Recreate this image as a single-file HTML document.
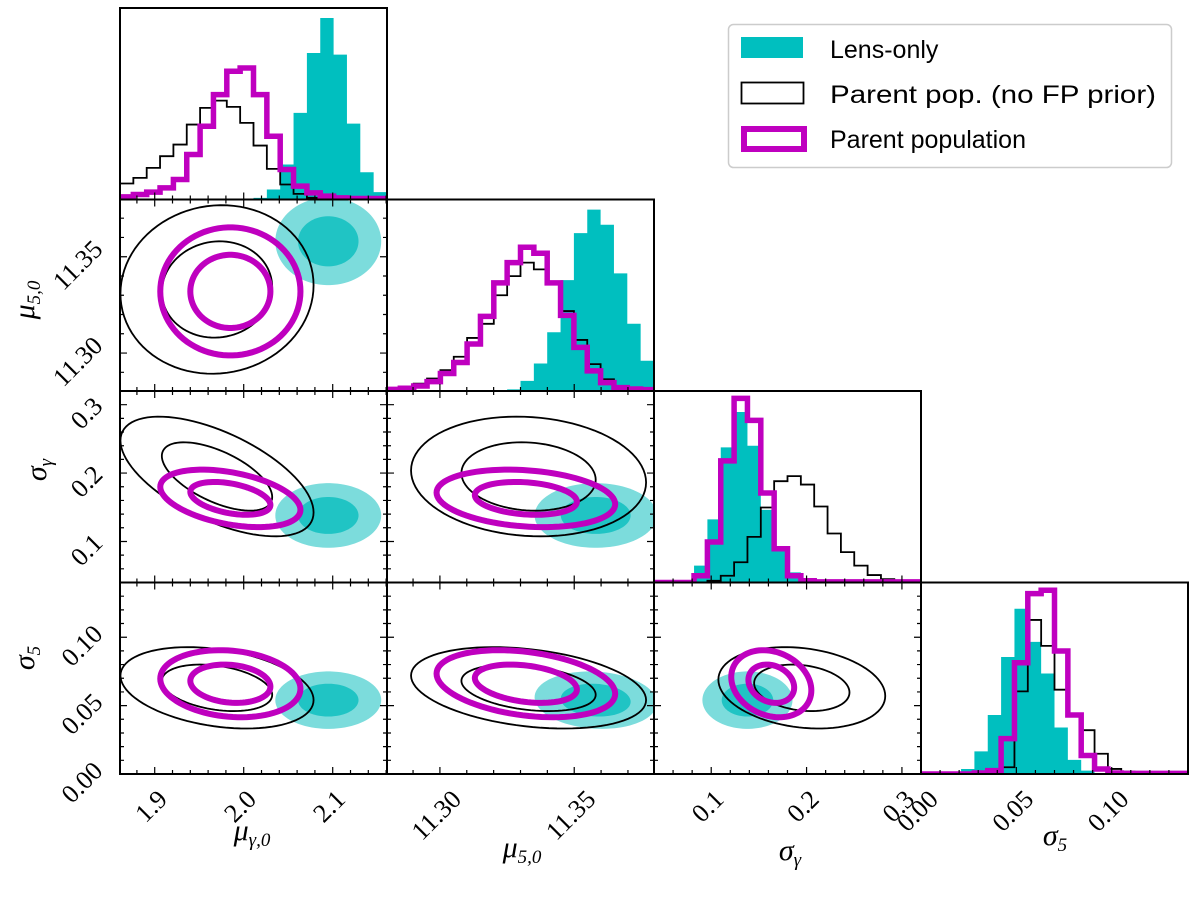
<!DOCTYPE html>
<html><head><meta charset="utf-8">
<style>
html,body{margin:0;padding:0;background:#fff;}
svg{display:block;}
text{font-family:"Liberation Serif",serif;}
.lg{font-family:"Liberation Sans",sans-serif;font-size:25px;}
</style></head>
<body>
<svg id="chart" width="1200" height="900" viewBox="0 0 1200 900" xmlns="http://www.w3.org/2000/svg">
<g id="legend">
  <rect x="728.5" y="24.5" width="443" height="143" rx="5" fill="#fff" stroke="#cccccc" stroke-width="1.5"/>
  <g>
    <rect x="741" y="37" width="62" height="21" fill="#00bfbf"/>
    <text class="lg" x="830" y="58">Lens-only</text>
  </g>
  <g>
    <rect x="741.5" y="82.5" width="62" height="21" fill="none" stroke="#000" stroke-width="1.8"/>
    <text class="lg" x="830" y="103" textLength="326" lengthAdjust="spacingAndGlyphs">Parent pop. (no FP prior)</text>
  </g>
  <g>
    <rect x="744" y="129" width="60" height="20" fill="none" stroke="#bf00bf" stroke-width="6"/>
    <text class="lg" x="830" y="148">Parent population</text>
  </g>
</g>
</svg>
<script>
// ---- data ----
const paramNames = ["mu_gamma0","mu_50","sigma_gamma","sigma_5"];
const rangeMuGamma = [1.861, 2.161];
const rangeMu5 = [11.2803, 11.3797];
const rangeSigGamma = [0.04, 0.32];
const rangeSig5 = [0.0, 0.14];
const ticksMuGamma = [1.9, 2.0, 2.1];
const ticksMu5 = [11.30, 11.35];
const ticksSigGamma = [0.1, 0.2, 0.3];
const ticksSig5 = [0.00, 0.05, 0.10];
const tickLabelsMuGamma = ["1.9","2.0","2.1"];
const tickLabelsMu5 = ["11.30","11.35"];
const tickLabelsSigGamma = ["0.1","0.2","0.3"];
const tickLabelsSig5 = ["0.00","0.05","0.10"];
const minorMuGamma = 0.02, minorMu5 = 0.01, minorSigGamma = 0.02, minorSig5 = 0.01;

// histograms (20 bins across range), relative counts
const histMuGammaLens   = [0,0,0,0,0,0,0,0,0,0,5,30,105,260,440,545,435,228,82,22];
const histMuGammaNoFP   = [48,65,95,130,165,225,275,297,278,230,162,92,45,17,5,2,1,0,0,0];
const histMuGammaParent = [8,15,22,35,60,135,220,315,385,395,315,190,90,40,20,10,5,3,3,3];
const histMu5Lens   = [0,0,0,0,0,0,0,0,0,5,30,82,175,330,470,540,495,350,200,90];
const histMu5NoFP   = [5,8,22,37,62,102,158,200,285,342,382,362,322,238,152,80,35,15,5,2];
const histMu5Parent = [5,8,15,28,52,85,140,222,322,382,428,410,322,225,130,60,25,10,6,4];
const histSigGammaLens   = [0,0,5,50,187,400,505,405,215,100,30,10,0,0,0,0,0,0,0,0];
const histSigGammaNoFP   = [0,0,0,0,5,20,60,135,222,300,315,290,225,145,90,50,22,10,3,2];
const histSigGammaParent = [0,0,0,20,120,360,545,480,265,100,20,5,2,2,2,2,2,2,2,2];
const histSig5Lens   = [0,0,3,15,67,175,347,490,392,298,138,42,10,0,0,0,0,0,0,0];
const histSig5NoFP   = [0,0,0,0,0,2,20,245,457,380,250,175,130,60,15,7,2,0,0,0];
const histSig5Parent = [0,0,0,0,3,10,105,330,535,545,365,175,55,15,3,2,2,2,2,2];
const histYMax = [575, 570, 567, 568];

// 2D posterior summaries: means, std devs, correlations [01,02,03,12,13,23]
const meanLens   = [2.095, 11.358, 0.138, 0.054];
const sdLens     = [0.034, 0.013, 0.027, 0.012];
const corrLens   = [0, 0, 0, 0, -0.1, 0];
const meanNoFP   = [1.97, 11.333, 0.195, 0.063];
const sdNoFP     = [0.062, 0.025, 0.05, 0.017];
const corrNoFP   = [0.05, -0.6, -0.3, -0.1, -0.3, -0.2];
const meanParent = [1.985, 11.332, 0.163, 0.066];
const sdParent   = [0.045, 0.019, 0.024, 0.014];
const corrParent = [0, -0.4, -0.15, -0.2, -0.3, -0.2];
const contourLevels = [1.0, 1.75];

// ---- layout ----
const NS = "http://www.w3.org/2000/svg";
const svg = document.getElementById('chart');
const colX = [120, 387, 654, 921], PW = 267;
const rowY = [8, 199.5, 391, 582.5], PH = 191.5;
const ranges = [rangeMuGamma, rangeMu5, rangeSigGamma, rangeSig5];
const ticks = [ticksMuGamma, ticksMu5, ticksSigGamma, ticksSig5];
const tickLabels = [tickLabelsMuGamma, tickLabelsMu5, tickLabelsSigGamma, tickLabelsSig5];
const minors = [minorMuGamma, minorMu5, minorSigGamma, minorSig5];
const hists = [
  [histMuGammaLens, histMuGammaNoFP, histMuGammaParent],
  [histMu5Lens, histMu5NoFP, histMu5Parent],
  [histSigGammaLens, histSigGammaNoFP, histSigGammaParent],
  [histSig5Lens, histSig5NoFP, histSig5Parent]];
const pairIdx = {"0,1":0,"0,2":1,"0,3":2,"1,2":3,"1,3":4,"2,3":5};

function el(tag, attrs, parent){
  const e = document.createElementNS(NS, tag);
  for (const k in attrs) e.setAttribute(k, attrs[k]);
  (parent||svg).appendChild(e);
  return e;
}
function xScale(p, col){ const r = ranges[p]; return v => colX[col] + (v - r[0]) / (r[1]-r[0]) * PW; }
function yScale(p, row){ const r = ranges[p]; return v => rowY[row] + PH - (v - r[0]) / (r[1]-r[0]) * PH; }

const defs = el('defs', {});
const legend = document.getElementById('legend');

function ellipsePath(mean, sd, corr, pi, pj, r, xs, ys){
  const rho = corr[pairIdx[pi+","+pj]];
  const q = Math.sqrt(1 - rho*rho);
  let d = "";
  for (let k = 0; k <= 90; k++){
    const t = k/90*2*Math.PI, u = Math.cos(t), v = Math.sin(t);
    const a = mean[pi] + sd[pi]*r*u;
    const b = mean[pj] + sd[pj]*r*(rho*u + q*v);
    d += (k ? "L" : "M") + xs(a).toFixed(2) + "," + ys(b).toFixed(2);
  }
  return d + "Z";
}

function drawTicks(g, row, col, xp, yp, diag){
  const x0 = colX[col], y0 = rowY[row], x1 = x0+PW, y1 = y0+PH;
  const xs = xScale(xp, col);
  const r = ranges[xp];
  let d = "";
  const start = Math.ceil(r[0]/minors[xp]-1e-6);
  for (let k = start; k*minors[xp] <= r[1]+1e-9; k++){
    const v = k*minors[xp];
    const isMajor = ticks[xp].some(t => Math.abs(t-v) < 1e-6);
    const L = isMajor ? 7 : 4, x = xs(v);
    d += `M${x},${y1}V${y1-L}`;
    if (!diag) d += `M${x},${y0}V${y0+L}`;
  }
  if (!diag){
    const ys = yScale(yp, row), ry = ranges[yp];
    const st = Math.ceil(ry[0]/minors[yp]-1e-6);
    for (let k = st; k*minors[yp] <= ry[1]+1e-9; k++){
      const v = k*minors[yp];
      const isMajor = ticks[yp].some(t => Math.abs(t-v) < 1e-6);
      const L = isMajor ? 7 : 4, y = ys(v);
      d += `M${x0},${y}H${x0+L}M${x1},${y}H${x1-L}`;
    }
  }
  const tp = el('path', {d: d, stroke: "#000", "stroke-width": 1.2, fill: "none"}, g);
  
  
}

function stepPath(vals, col, row, ymax){
  const n = vals.length, bw = PW/n, base = rowY[row]+PH;
  let d = `M${colX[col]},${base}`;
  for (let i = 0; i < n; i++){
    const y = base - vals[i]/ymax*PH;
    d += `V${y.toFixed(2)}H${(colX[col]+(i+1)*bw).toFixed(2)}`;
  }
  return d + `V${base}`;
}

for (let row = 0; row < 4; row++){
  for (let col = 0; col <= row; col++){
    const g = el('g', {});
    
    
    const cid = `clip${row}${col}`;
    const cp = el('clipPath', {id: cid}, defs);
    el('rect', {x: colX[col], y: rowY[row], width: PW, height: PH}, cp);
    const inner = el('g', {"clip-path": `url(#${cid})`}, g);
    if (row === col){
      const [hl, hb, hm] = hists[col];
      const ymax = histYMax[col];
      const p1 = el('path', {d: stepPath(hl, col, row, ymax), fill: "#00bfbf", stroke: "none"}, inner);
      
      
      const p2 = el('path', {d: stepPath(hb, col, row, ymax), fill: "none", stroke: "#000", "stroke-width": 1.8}, inner);
      
      
      const p3 = el('path', {d: stepPath(hm, col, row, ymax), fill: "none", stroke: "#bf00bf", "stroke-width": 5.5}, inner);
      
      
      drawTicks(g, row, col, col, null, true);
    } else {
      const xs = xScale(col, col), ys = yScale(row, row);
      const c1 = el('path', {d: ellipsePath(meanLens, sdLens, corrLens, col, row, contourLevels[1], xs, ys), fill: "#7cdcdc"}, inner);
      
      
      const c2 = el('path', {d: ellipsePath(meanLens, sdLens, corrLens, col, row, contourLevels[0], xs, ys), fill: "#20c4c4"}, inner);
      
      
      for (const lv of contourLevels){
        const c = el('path', {d: ellipsePath(meanNoFP, sdNoFP, corrNoFP, col, row, lv, xs, ys), fill: "none", stroke: "#000", "stroke-width": 1.8}, inner);
        
        
      }
      for (const lv of contourLevels){
        const c = el('path', {d: ellipsePath(meanParent, sdParent, corrParent, col, row, lv, xs, ys), fill: "none", stroke: "#bf00bf", "stroke-width": 6}, inner);
        
        
      }
      drawTicks(g, row, col, col, row, false);
    }
    const fr = el('rect', {x: colX[col], y: rowY[row], width: PW, height: PH, fill: "none", stroke: "#000", "stroke-width": 2}, g);
    
    
  }
}

// tick labels: bottom row x, left column y (rows 1..3)
function rotLabel(txt, cx, cy, anchorMode){
  const t = el('text', {"font-size": 26, "text-anchor": "middle"});
  t.textContent = txt;
  
  
  const L = t.getComputedTextLength(), h = 18;
  const half = (L + h) * 0.3536;
  let px, py;
  if (anchorMode === 'x'){ px = cx - 4; py = cy + half; }
  else { px = cx - half; py = cy; }
  t.setAttribute('transform', `translate(${px},${py}) rotate(-45)`);
  t.setAttribute('dy', '0.35em');
}
for (let col = 0; col < 4; col++){
  const xs = xScale(col, col);
  ticks[col].forEach((v, i) => rotLabel(tickLabels[col][i], xs(v), 788, 'x'));
}
for (let row = 1; row < 4; row++){
  const ys = yScale(row, row);
  ticks[row].forEach((v, i) => rotLabel(tickLabels[row][i], 104, ys(v) + 8, 'y'));
}

// axis titles
function title(parts, x, y, rot, name){
  const t = el('text', {x: x, y: y, "font-size": 30, "font-style": "italic", "text-anchor": "middle"});
  if (rot) t.setAttribute('transform', `rotate(-90 ${x} ${y})`);
  
  
  const a = document.createElementNS(NS, 'tspan'); a.textContent = parts[0]; t.appendChild(a);
  const b = document.createElementNS(NS, 'tspan'); b.setAttribute('font-size', 19); b.setAttribute('dy', 6); b.textContent = parts[1]; t.appendChild(b);
}
title(["μ","γ,0"], 252, 840, false, 'x-axis-title-mu-gamma');
title(["μ","5,0"], 522, 857, false, 'x-axis-title-mu-5');
title(["σ","γ"], 790, 860, false, 'x-axis-title-sigma-gamma');
title(["σ","5"], 1055, 845, false, 'x-axis-title-sigma-5');
title(["μ","5,0"], 34, 300, true, 'y-axis-title-mu-5');
title(["σ","γ"], 46, 470, true, 'y-axis-title-sigma-gamma');
title(["σ","5"], 34, 658, true, 'y-axis-title-sigma-5');

svg.appendChild(legend);
</script>
</body></html>
